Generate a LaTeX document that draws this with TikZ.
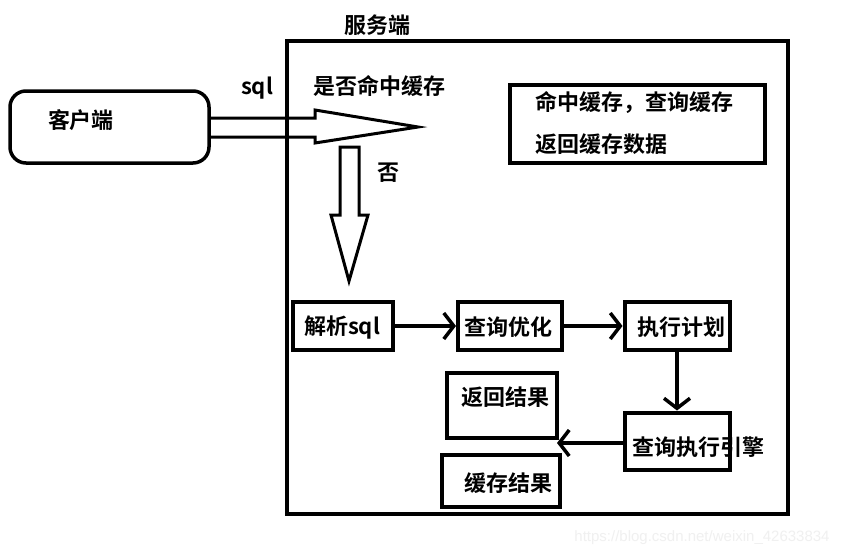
\documentclass[tikz,border=0pt]{standalone}
\usepackage{fontspec}
\newfontfamily\cjk{Noto Sans CJK SC}[BoldFont={* Bold}]
\newfontfamily\wm{Liberation Sans}
\usetikzlibrary{arrows.meta}
\tikzset{
  lbl/.style={inner sep=0pt, font=\cjk\bfseries\fontsize{22}{26}\selectfont},
  box/.style={draw, line width=4pt},
  flow/.style={line width=3.5pt, -{Straight Barb[length=10pt,width=26pt,line width=3.5pt]}},
  hollow/.style={draw, line width=3pt, line join=miter},
}
\begin{document}
\begin{tikzpicture}[x=1pt,y=-1pt]
\useasboundingbox (0,0) rectangle (847,557);
\fill[white] (0,0) rectangle (847,557);
% server frame
\draw[box] (287,41) rectangle (788,514);
\node[lbl] (srv) at (377,25) {服务端};
% client
\draw[line width=3.5pt, rounded corners=16pt] (10,91) rectangle (209,163);
\node[lbl] (cli) at (81,120) {客户端};
\node[lbl] (sql) at (257,88) {sql};
\node[lbl] (hit) at (379,86) {是否命中缓存};
% hollow right arrow
\draw[hollow] (209,118) -- (315,118) -- (315,110) -- (418,127) -- (315,143) -- (315,137) -- (209,137);
% hollow down arrow
\draw[hollow] (340,147) -- (359,147) -- (359,215) -- (368,215) -- (349,281) -- (331,215) -- (340,215) -- cycle;
\node[lbl] (no) at (388,173) {否};
% hit box
\node[box, minimum width=255pt, minimum height=78pt, anchor=north west, inner sep=0pt] (hitbox) at (508,83) {};
\node[lbl, anchor=west] (hit1) at (535,102) {命中缓存，查询缓存};
\node[lbl, anchor=west] (hit2) at (535,144) {返回缓存数据};
% pipeline boxes
\node[box, minimum width=100pt, minimum height=48pt, inner sep=0pt] (parse) at (343,326) {};
\node[lbl] at (342,328) {解析sql};
\node[box, minimum width=104pt, minimum height=48pt, inner sep=0pt] (opt) at (510,326) {};
\node[lbl] at (508,327) {查询优化};
\node[box, minimum width=105pt, minimum height=48pt, inner sep=0pt] (plan) at (677,326) {};
\node[lbl] at (681,327) {执行计划};
\node[box, minimum width=105pt, minimum height=57pt, inner sep=0pt] (eng) at (677,441) {};
\node[lbl] at (698,447) {查询执行引擎};
\node[box, minimum width=110pt, minimum height=65pt, inner sep=0pt] (ret) at (502,405) {};
\node[lbl] at (505,397) {返回结果};
\node[box, minimum width=118pt, minimum height=52pt, inner sep=0pt] (cache) at (501,481) {};
\node[lbl] at (508,483) {缓存结果};
% connectors
\draw[flow] (parse.east) -- (opt.west);
\draw[flow] (opt.east) -- (plan.west);
\draw[flow] (plan.south) -- (eng.north);
\draw[flow] (eng.west |- 0,443) -- (557,443);
% watermark
\node[inner sep=0pt, text=black!6, font=\wm\fontsize{15}{17}\selectfont] (wm) at (702,538) {https://blog.csdn.net/weixin\_42633834};
\end{tikzpicture}
\end{document}
